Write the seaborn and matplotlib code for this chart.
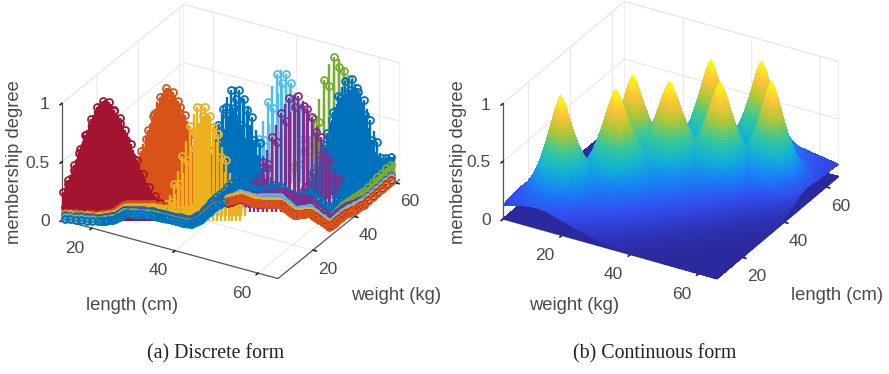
import numpy as np
import matplotlib
matplotlib.use("Agg")
import matplotlib.pyplot as plt
from matplotlib.colors import LinearSegmentedColormap
from mpl_toolkits.mplot3d import proj3d
from mpl_toolkits.mplot3d.art3d import Line3DCollection
import seaborn as sns

# Gaussian membership functions: centres, spreads and stem spacing for each class
class_colors = ["#77AC30", "#4DBEEE", "#0072BD", "#0072BD", "#7E2F8E", "#D95319", "#EDB120", "#A2142F"]
class_length = [51.8, 45.0, 59.0, 40.4, 53.0, 28.5, 38.1, 19.9]
class_weight = [56.8, 44.4, 49.1, 31.2, 34.9, 22.6, 19.6, 9.6]
class_spread = [3.1, 3.0, 3.3, 3.2, 4.4, 3.6, 3.2, 4.2]
class_step = [0.9, 0.8, 0.6, 0.7, 0.8, 0.4, 0.7, 0.35]
class_rows = [[0.0, 2.5], [0.0, 2.5], [-2.5, 0.0, 2.5], [-2.5, 0.0, 2.5], [0.0, 2.5], [-2.5, 0.0, 2.5], [0.0, 2.5], [-2.5, 0.0, 2.5]]
tail_height = [0.25, 0.14, 0.4, 0.14, 0.14, 0.14, 0.14, 0.14]
tail_decay = [12.0, 8.0, 12.0, 8.0, 8.0, 8.0, 8.0, 8.0]

# Samples with low membership follow this length/weight track
track_length = [13.1, 20.1, 22.4, 22.8, 27.8, 31.4, 37.2, 38.1, 38.1, 40.4, 44.2, 48.7, 53.9, 56.1, 62.8, 62.7, 64.0, 63.4]
track_weight = [3.9, 6.8, 9.5, 13.4, 15.6, 15.6, 16.0, 19.0, 26.1, 33.6, 33.2, 36.2, 33.1, 35.9, 32.1, 39.7, 46.6, 61.9]
# Stacking of the low stems, rearmost class first, on each half of the track
stack_near = [7, 5, 6, 3, 4, 0, 1, 2]
stack_far = [2, 0, 3, 4, 1, 6, 7, 5]

# Peaks of the continuous surface
peak_weight = [13.4, 23.9, 24.0, 33.6, 37.1, 44.9, 48.5, 55.9]
peak_length = [18.1, 27.2, 35.2, 37.0, 51.0, 42.7, 56.6, 49.3]

tick_values = [20, 40, 60]
z_ticks = [0, 0.5, 1]
z_tick_labels = ["0", "0.5", "1"]

parula = LinearSegmentedColormap.from_list("parula", [
    (0.17, 0.16, 0.62), (0.2, 0.30, 0.93), (0.1, 0.50, 0.97),
    (0.0689, 0.6948, 0.8394), (0.2161, 0.7843, 0.5923), (0.6720, 0.7793, 0.2227),
    (0.9970, 0.7659, 0.2199), (0.9769, 0.9839, 0.0805)])

sns.set_theme(style="white", rc={
    "font.family": ["Liberation Sans", "DejaVu Sans"],
    "grid.color": "#e6e6e6", "grid.linewidth": 0.7,
})
TEXT = "#4a4a4a"
LABEL_SIZE = 13.2

fig = plt.figure(figsize=(8.89, 3.74), dpi=100)
fig.patch.set_facecolor("white")


def fit_box(ax, left_px, front_px):
    """Size a square 3D axes so two box corners land on given figure pixels."""
    side = 400.0
    ax.set_position([0.1, 0.1, side / 889, side / 374])

    def corner(x, y):
        X, Y, _ = proj3d.proj_transform(x, y, 0, ax.get_proj())
        return ax.transData.transform((X, Y))

    xl, xh = ax.get_xlim()
    yl = ax.get_ylim()[0]
    p0, p1 = corner(xl, yl), corner(xh, yl)
    new_side = side * (front_px[0] - left_px[0]) / (p1[0] - p0[0])
    fx = (p0[0] - 88.9) / side
    fy = (p0[1] - 37.4) / side
    x0 = left_px[0] - new_side * fx
    y0 = (374 - left_px[1]) - new_side * fy
    ax.set_position([x0 / 889, y0 / 374, new_side / 889, new_side / 374])


def style_axes(ax, xlim, ylim, elev, aspect):
    ax.computed_zorder = False
    ax.set_proj_type("ortho")
    ax.view_init(elev=elev, azim=-60)
    ax.set_xlim(*xlim)
    ax.set_ylim(*ylim)
    ax.set_zlim(0, 1)
    ax.set_box_aspect(aspect)
    ax.patch.set_alpha(0)
    ax.set_xticks(tick_values)
    ax.set_yticks(tick_values)
    ax.set_zticks(z_ticks)
    ax.set_zticklabels(z_tick_labels)
    ax.zaxis.set_ticks_position("lower")
    for axis in (ax.xaxis, ax.yaxis, ax.zaxis):
        axis.pane.fill = False
        axis.pane.set_edgecolor("#dddddd")
        axis.pane.set_linewidth(0.7)
        axis.line.set_color("#555555")
        axis.line.set_linewidth(0.9)
        axis._axinfo["tick"]["inward_factor"] = 0.2
        axis._axinfo["tick"]["outward_factor"] = 0.0
        axis._axinfo["tick"]["color"] = "#555555"
    ax.tick_params(axis="x", labelsize=12.5, labelcolor=TEXT, pad=0)
    ax.tick_params(axis="y", labelsize=12.5, labelcolor=TEXT, pad=1)
    ax.tick_params(axis="z", labelsize=12.5, labelcolor=TEXT, pad=-3)
    for label in ax.get_xticklabels():
        label.set_horizontalalignment("right")
    for label in ax.get_zticklabels():
        label.set_verticalalignment("center")
        label.set_horizontalalignment("right")


# (a) discrete form: stems with open circle markers
ax_a = fig.add_subplot(1, 2, 1, projection="3d")
style_axes(ax_a, (12.8, 64.8), (3.1, 61.9), 28, (250, 244, 132.5))
fit_box(ax_a, (62, 220), (278, 279))


def draw_stems(ax, xs, ys, zs, color, order, every=2):
    segs = [[(x, y, 0), (x, y, z)] for x, y, z in zip(xs, ys, zs)]
    ax.add_collection3d(Line3DCollection(segs, colors=color, linewidths=1.7, zorder=order))
    ax.plot(xs[::every], ys[::every], zs[::every], ls="none", marker="o", ms=5.0, mfc="none",
            mec=color, mew=1.3, zorder=order + 0.5)


palette = sns.color_palette(class_colors)
for i, (color, cl, cw, spread, step, rows) in enumerate(
        zip(palette, class_length, class_weight, class_spread, class_step, class_rows)):
    for j, offset in enumerate(rows):
        lengths = np.arange(max(cl - 2.4 * spread, 13.2), min(cl + 2.4 * spread, 64.5), step)
        weights = cw + offset + (lengths - cl) * 0.674
        heights = np.exp(-0.5 * ((lengths - cl) / spread) ** 2 - 0.5 * (offset / 5.0) ** 2)
        draw_stems(ax_a, lengths, weights, heights, color, 10 + i * 2 + j * 0.5, every=3 if step < 0.5 else 2)

path_pos = np.linspace(0, len(track_length) - 1, 330)
path_len = np.interp(path_pos, np.arange(len(track_length)), track_length)
path_wei = np.interp(path_pos, np.arange(len(track_weight)), track_weight)
half = len(path_pos) // 2
for part, stack in ((slice(0, half), stack_near), (slice(half, None), stack_far)):
    for rank, k in enumerate(stack):
        dist = np.hypot(path_len[part] - class_length[k], path_wei[part] - class_weight[k])
        low = tail_height[k] * np.exp(-dist / tail_decay[k]) + 0.008 * (len(stack) - 1 - rank)
        draw_stems(ax_a, path_len[part], path_wei[part], low, palette[k], 40 + rank, every=3)

fig.text(15 / 889, 1 - 162 / 374, "membership degree", rotation=90, ha="center", va="center", fontsize=LABEL_SIZE, color=TEXT)
fig.text(132 / 889, 1 - 305 / 374, "length (cm)", ha="center", va="center", fontsize=LABEL_SIZE, color=TEXT)
fig.text(396 / 889, 1 - 295 / 374, "weight (kg)", ha="center", va="center", fontsize=LABEL_SIZE, color=TEXT)
fig.text(216 / 889, 1 - 354 / 374, "(a) Discrete form", ha="center", va="center", fontsize=14.3,
         family="Liberation Serif", color="#222222")

# (b) continuous form: surface of the fuzzy membership
ax_b = fig.add_subplot(1, 2, 2, projection="3d")
style_axes(ax_b, (2.8, 65.4), (7.8, 65.8), 29, (248, 244, 132.5))
fit_box(ax_b, (503, 219), (717, 279))

wgrid, lgrid = np.meshgrid(np.linspace(2.8, 65.4, 220), np.linspace(7.8, 65.8, 220))
peaks = np.max([np.exp(-(np.hypot(wgrid - w, lgrid - l) / 4.8) ** 1.5)
                for w, l in zip(peak_weight, peak_length)], axis=0)
across = (lgrid - wgrid - 3.0) / 1.414
along = (lgrid + wgrid - 70.0) / 1.414
ridge = 0.36 * np.exp(-0.5 * (across / 10.0) ** 2) * np.exp(-0.5 * (along / 28.0) ** 2)
surface = ridge + (1 - ridge) * peaks

floor = np.full_like(surface, 0.004)
ax_b.plot_surface(wgrid, lgrid, floor, color=parula(0.0), shade=False, rstride=20, cstride=20,
                  linewidth=0, antialiased=False, zorder=5)
ax_b.plot_surface(wgrid, lgrid, surface, facecolors=parula(surface), shade=False, rstride=1, cstride=1,
                  linewidth=0, antialiased=False, zorder=6)

fig.text(459 / 889, 1 - 162 / 374, "membership degree", rotation=90, ha="center", va="center", fontsize=LABEL_SIZE, color=TEXT)
fig.text(574 / 889, 1 - 305 / 374, "weight (kg)", ha="center", va="center", fontsize=LABEL_SIZE, color=TEXT)
fig.text(837 / 889, 1 - 295 / 374, "length (cm)", ha="center", va="center", fontsize=LABEL_SIZE, color=TEXT)
fig.text(655 / 889, 1 - 354 / 374, "(b) Continuous form", ha="center", va="center", fontsize=14.3,
         family="Liberation Serif", color="#222222")

fig.savefig("out.png", dpi=100, facecolor="white")
